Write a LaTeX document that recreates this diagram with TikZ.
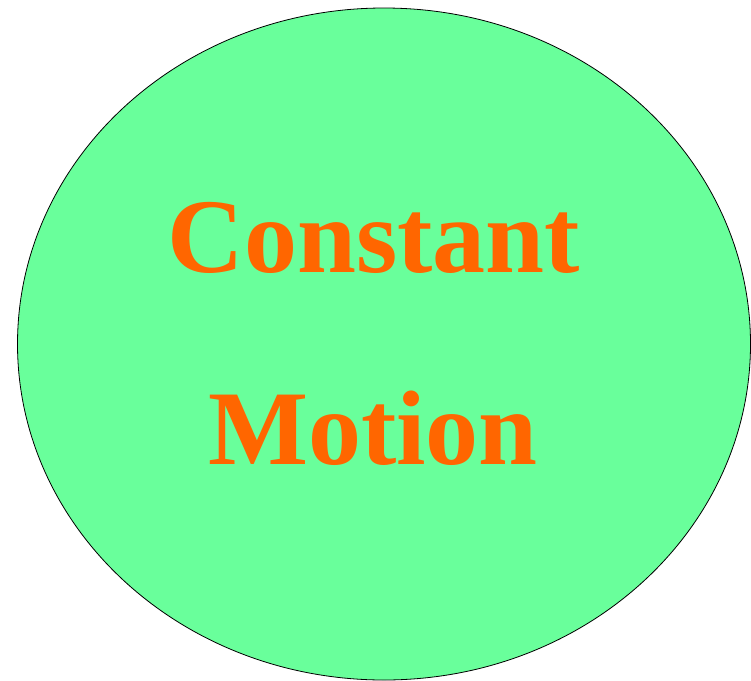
\documentclass[tikz,border=0pt]{standalone}
\usepackage{fontspec}
\setmainfont{Liberation Serif}
\usetikzlibrary{shapes.geometric}
\definecolor{Mint}{HTML}{69FF9B}
\definecolor{Blaze}{HTML}{FF6600}
\tikzset{
  blob/.style={ellipse, draw=black, fill=#1, line width=0.8pt,
               minimum width=733pt, minimum height=672pt, inner sep=0pt},
  bigword/.style={font=\fontsize{106}{120}\selectfont\bfseries, text=#1,
                  anchor=base, inner sep=0pt},
}
\begin{document}
\begin{tikzpicture}[x=1pt, y=-1pt]
  \useasboundingbox (0,0) rectangle (751,680);
  \node[blob=Mint] (motion) at (384,344) {};
  \node[bigword=Blaze] (w1) at (374,272) {Constant};
  \node[bigword=Blaze] (w2) at (373,464) {Motion};
\end{tikzpicture}
\end{document}
